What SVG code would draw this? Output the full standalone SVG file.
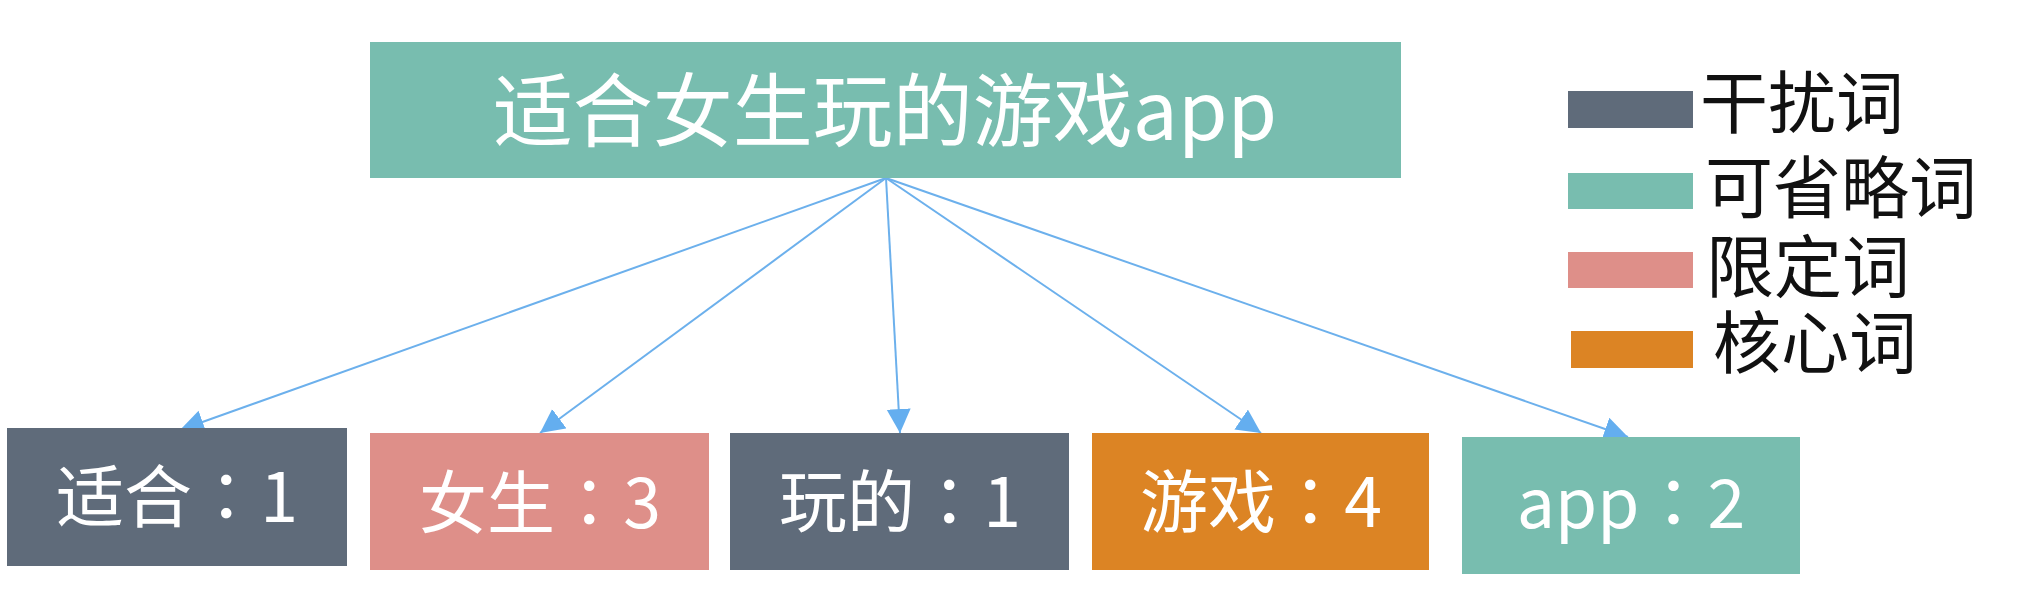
<svg xmlns="http://www.w3.org/2000/svg" width="2027" height="592" viewBox="0 0 2027 592">
<style>
.box text{fill:#ffffff;font-family:"Noto Sans CJK SC","Noto Sans",sans-serif;text-anchor:middle}
.box tspan.c{font-family:"Noto Sans CJK TC","Noto Sans CJK SC",sans-serif}
.leg{fill:#111111;font-family:"Noto Sans CJK SC","Noto Sans",sans-serif;font-size:68px}
.dark{fill:#5f6b7a}
.teal{fill:#78bdaf}
.pink{fill:#de8f89}
.orange{fill:#dc8424}
.conn line{stroke:#6cb0ec;stroke-width:2;marker-end:url(#arr)}
</style>
<defs>
<marker id="arr" markerUnits="userSpaceOnUse" markerWidth="26" markerHeight="26" refX="24" refY="12" orient="auto">
<path d="M0,0 L24,12 L0,24 Z" fill="#64aeef"/>
</marker>
</defs>
<rect width="2027" height="592" fill="#ffffff"/>
<g id="conns" class="conn">
<line x1="886" y1="178" x2="180" y2="430"/>
<line x1="886" y1="178" x2="540" y2="433"/>
<line x1="886" y1="178" x2="900" y2="433"/>
<line x1="886" y1="178" x2="1261" y2="433"/>
<line x1="886" y1="178" x2="1628" y2="437"/>
</g>
<g id="root" class="box">
<rect class="teal" x="370" y="42" width="1031" height="136"/>
<text x="885" y="140" font-size="80">适合女生玩的游戏app</text>
</g>
<g id="n1" class="box">
<rect class="dark" x="7" y="428" width="340" height="138"/>
<text x="177" y="522" font-size="68">适合<tspan class="c">：</tspan>1</text>
</g>
<g id="n2" class="box">
<rect class="pink" x="370" y="433" width="339" height="137"/>
<text x="540" y="528" font-size="68">女生<tspan class="c">：</tspan>3</text>
</g>
<g id="n3" class="box">
<rect class="dark" x="730" y="433" width="339" height="137"/>
<text x="900" y="527" font-size="68">玩的<tspan class="c">：</tspan>1</text>
</g>
<g id="n4" class="box">
<rect class="orange" x="1092" y="433" width="337" height="137"/>
<text x="1261" y="527" font-size="68">游戏<tspan class="c">：</tspan>4</text>
</g>
<g id="n5" class="box">
<rect class="teal" x="1462" y="437" width="338" height="137"/>
<text x="1631" y="528" font-size="68">app<tspan class="c">：</tspan>2</text>
</g>
<g id="legend">
<rect class="dark" x="1568" y="91" width="125" height="37"/>
<text class="leg" x="1700" y="128">干扰词</text>
<rect class="teal" x="1568" y="173" width="125" height="36"/>
<text class="leg" x="1705" y="213">可省略词</text>
<rect class="pink" x="1568" y="252" width="125" height="36"/>
<text class="leg" x="1706" y="292">限定词</text>
<rect class="orange" x="1571" y="331" width="122" height="37"/>
<text class="leg" x="1713" y="368">核心词</text>
</g>
</svg>
